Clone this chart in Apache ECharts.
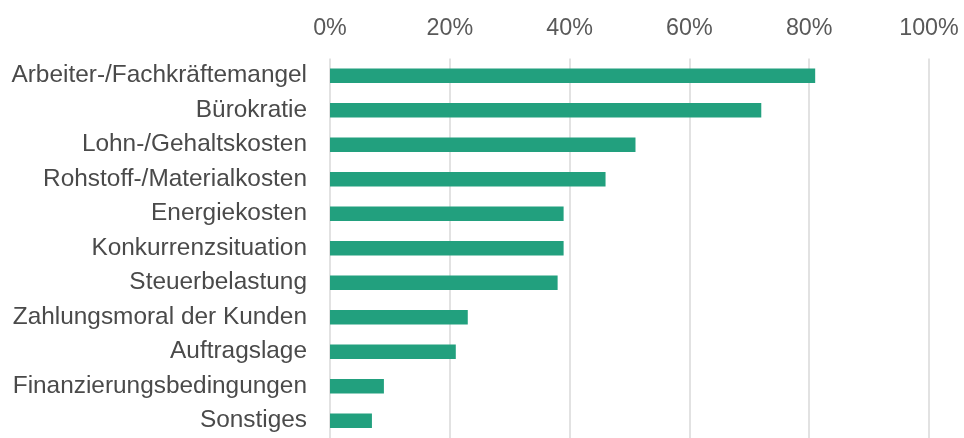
<!DOCTYPE html>
<html><head><meta charset="utf-8">
<script src="https://cdn.jsdelivr.net/npm/echarts@6/dist/echarts.min.js"></script>
<style>html,body{margin:0;padding:0;background:#fff}#c{width:964px;height:438px}</style>
</head><body><div id="c"></div>
<script>
const categories = ["Arbeiter-/Fachkräftemangel","Bürokratie","Lohn-/Gehaltskosten","Rohstoff-/Materialkosten","Energiekosten","Konkurrenzsituation","Steuerbelastung","Zahlungsmoral der Kunden","Auftragslage","Finanzierungsbedingungen","Sonstiges"];
const values = [81,72,51,46,39,39,38,23,21,9,7];
const xTicks = [0,20,40,60,80,100];

const chart = echarts.init(document.getElementById('c'), null, {renderer:'canvas'});
chart.setOption({
  animation:false,
  grid:{left:330,right:35,top:58.5,height:385,containLabel:false},
  xAxis:{type:'value',position:'top',min:xTicks[0],max:xTicks[xTicks.length-1],interval:20,
    axisLine:{show:false},axisTick:{show:false},
    axisLabel:{formatter:v=>v+'%',fontFamily:'Liberation Sans, Arial',fontSize:23.3,color:'#595959',margin:18},
    splitLine:{lineStyle:{color:'#d9d9d9',width:1.5}}},
  yAxis:{type:'category',inverse:true,data:categories,
    axisLine:{show:false},axisTick:{show:false},
    axisLabel:{fontFamily:'Liberation Sans, Arial',fontSize:24.4,color:'#4a4a4a',margin:23}},
  series:[{type:'bar',data:values,barWidth:14.5,itemStyle:{color:'#22a07e'}}]
});
</script></body></html>
